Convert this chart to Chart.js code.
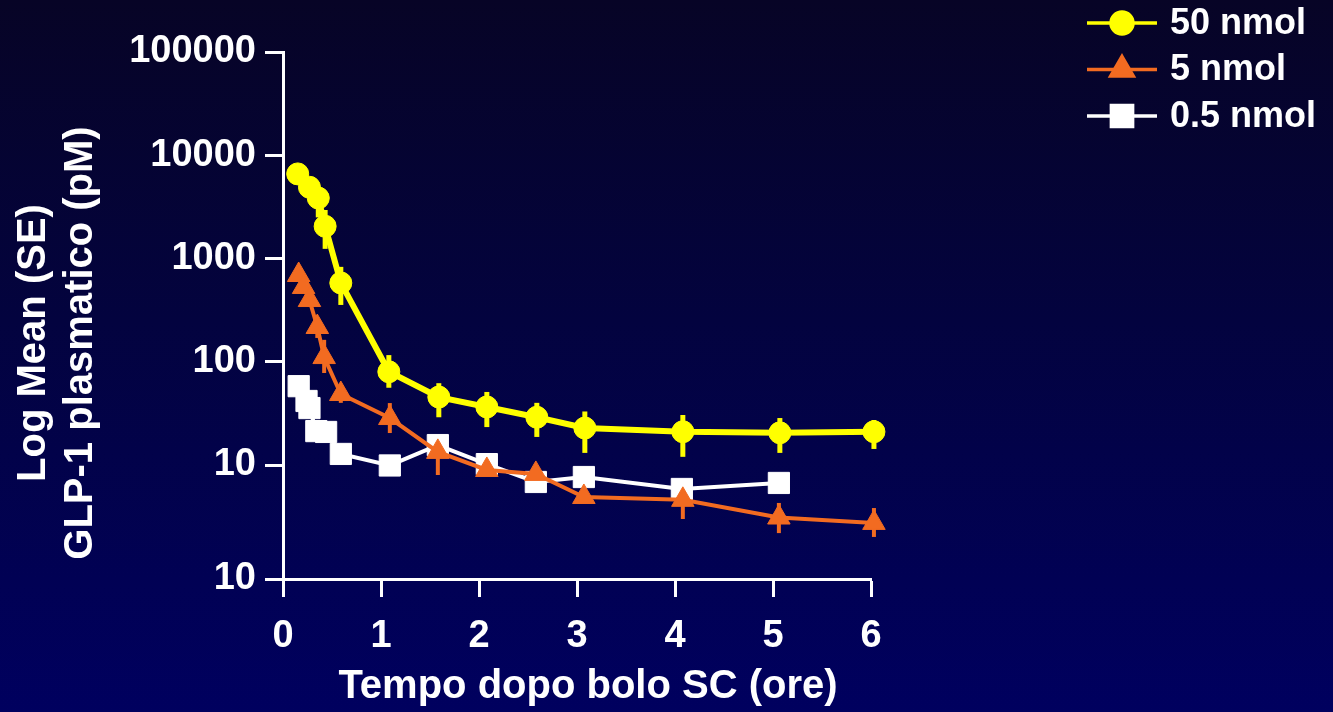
<!DOCTYPE html>
<html>
<head>
<meta charset="utf-8">
<script src="https://cdn.jsdelivr.net/npm/chart.js@4"></script>
<style>
  html, body { margin: 0; padding: 0; }
  body { width: 1333px; height: 712px; overflow: hidden;
         background: linear-gradient(to bottom, #070426 0%, #03033f 45%, #00005f 100%); }
  #wrap { position: relative; width: 1333px; height: 712px; }
</style>
</head>
<body>
<div id="wrap"><canvas id="glpChart" width="1333" height="712"></canvas></div>
<script>
  // 50 nmol
  const times50 = [0.15, 0.27, 0.36, 0.43, 0.59, 1.08, 1.59, 2.08, 2.59, 3.08, 4.08, 5.07, 6.03];
  const mean50  = [6600, 4900, 3850, 2050, 580, 80, 45.5, 36.5, 29, 22.8, 21, 20.5, 21];
  const hi50    = [7400, 5500, 4500, 2950, 830, 116, 62, 51, 40, 33, 30.5, 28.5, 27.3];
  const lo50    = [5900, 4400, 2500, 1240, 355, 56, 29, 23.3, 18.7, 13.1, 12, 13.1, 14.3];

  // 5 nmol
  const times5 = [0.16, 0.21, 0.27, 0.35, 0.42, 0.59, 1.09, 1.58, 2.08, 2.58, 3.07, 4.08, 5.06, 6.03];
  const mean5  = [692, 530, 396, 217, 111, 48.7, 28.5, 13.4, 8.95, 8.2, 4.9, 4.6, 3.1, 2.75];
  const hi5    = [845, 605, 470, 254, 163, 58, 39.8, 16.7, 10, 8.96, 5.36, 5.98, 4.29, 3.83];
  const lo5    = [600, 464, 340, 170, 77.8, 40, 20.4, 8.0, 8.0, 7.5, 4.48, 3.0, 2.19, 2.01];

  // 0.5 nmol
  const times05 = [0.16, 0.24, 0.27, 0.34, 0.44, 0.59, 1.09, 1.58, 2.08, 2.58, 3.07, 4.07, 5.06];
  const mean05  = [58, 41.7, 35.6, 21.3, 20.9, 12.8, 9.9, 15.6, 10.2, 6.85, 7.65, 5.86, 6.7];

  const seriesLabels = ['50 nmol', '5 nmol', '0.5 nmol'];
  const yTickValues = [0.787, 10, 100, 1000, 10000, 100000];
  const yTickLabels = ['10', '10', '100', '1000', '10000', '100000'];
  const xTickValues = [0, 1, 2, 3, 4, 5, 6];
  const yTitleLines = ['Log Mean (SE)', 'GLP-1 plasmatico (pM)'];
  const xTitle = 'Tempo dopo bolo SC (ore)';

  const FONT = "'Liberation Sans', Arial, sans-serif";
  const YELLOW = '#ffff00';
  const ORANGE = '#f26b21';
  const WHITE = '#ffffff';

  const toPoints = (xs, ys) => xs.map((x, i) => ({ x: x, y: ys[i] }));

  // vertical SE bars, drawn under the markers
  const errorBars = {
    id: 'errorBars',
    beforeDatasetsDraw(chart) {
      const ctx = chart.ctx;
      const xs = chart.scales.x, ys = chart.scales.y;
      chart.data.datasets.forEach(ds => {
        if (!ds.errHi) return;
        ctx.save();
        ctx.strokeStyle = ds.borderColor;
        ctx.lineWidth = ds.errWidth;
        ds.data.forEach((p, i) => {
          const px = xs.getPixelForValue(p.x);
          ctx.beginPath();
          ctx.moveTo(px, ys.getPixelForValue(ds.errHi[i]));
          ctx.lineTo(px, ys.getPixelForValue(ds.errLo[i]));
          ctx.stroke();
        });
        ctx.restore();
      });
    }
  };

  // axis titles and the line+marker legend at top right
  const extras = {
    id: 'extras',
    afterDraw(chart) {
      const ctx = chart.ctx;
      ctx.save();
      ctx.fillStyle = WHITE;
      ctx.font = 'bold 40px ' + FONT;
      ctx.textAlign = 'center';
      ctx.textBaseline = 'middle';
      yTitleLines.forEach((line, i) => {
        ctx.save();
        ctx.translate(34 + i * 47, 343);
        ctx.rotate(-Math.PI / 2);
        ctx.fillText(line, 0, 0);
        ctx.restore();
      });
      ctx.fillText(xTitle, 588, 687);

      chart.data.datasets.forEach((ds, i) => {
        const y = 23 + i * 46.5;
        ctx.strokeStyle = ds.borderColor;
        ctx.lineWidth = 3.5;
        ctx.beginPath();
        ctx.moveTo(1087, y);
        ctx.lineTo(1157, y);
        ctx.stroke();
        ctx.fillStyle = ds.pointBackgroundColor;
        ctx.strokeStyle = ds.pointBackgroundColor;
        Chart.helpers.drawPoint(ctx, {
          pointStyle: ds.pointStyle, radius: ds.pointRadius, rotation: 0, borderWidth: 1
        }, 1122, y);
        ctx.fillStyle = WHITE;
        ctx.font = 'bold 36px ' + FONT;
        ctx.textAlign = 'left';
        ctx.textBaseline = 'middle';
        ctx.fillText(ds.label, 1170, y + 1);
      });
      ctx.restore();
    }
  };

  const ctx = document.getElementById('glpChart').getContext('2d');
  new Chart(ctx, {
    type: 'line',
    data: {
      datasets: [
        {
          label: seriesLabels[0],
          data: toPoints(times50, mean50),
          errHi: hi50, errLo: lo50, errWidth: 5,
          borderColor: YELLOW, borderWidth: 6,
          pointStyle: 'circle', pointRadius: 11,
          pointBackgroundColor: YELLOW, pointBorderColor: YELLOW, pointBorderWidth: 1,
          clip: false
        },
        {
          label: seriesLabels[1],
          data: toPoints(times5, mean5),
          errHi: hi5, errLo: lo5, errWidth: 4,
          borderColor: ORANGE, borderWidth: 4,
          pointStyle: 'triangle', pointRadius: 13,
          pointBackgroundColor: ORANGE, pointBorderColor: ORANGE, pointBorderWidth: 1,
          clip: false
        },
        {
          label: seriesLabels[2],
          data: toPoints(times05, mean05),
          borderColor: WHITE, borderWidth: 4,
          pointStyle: 'rect', pointRadius: 15,
          pointBackgroundColor: WHITE, pointBorderColor: WHITE, pointBorderWidth: 1,
          clip: false
        }
      ]
    },
    options: {
      responsive: false,
      animation: false,
      layout: { padding: { top: 52, right: 462, bottom: 0, left: 0 } },
      plugins: {
        legend: { display: false },
        tooltip: { enabled: false }
      },
      scales: {
        x: {
          type: 'linear',
          min: 0,
          max: 6,
          afterFit: s => { s.height = 133; },
          afterBuildTicks: s => { s.ticks = xTickValues.map(v => ({ value: v })); },
          border: { display: true, color: WHITE, width: 3 },
          grid: { drawOnChartArea: false, drawTicks: true, tickLength: 18, tickColor: WHITE, tickWidth: 3 },
          ticks: { color: WHITE, padding: 17, font: { family: FONT, size: 38, weight: 'bold' } }
        },
        y: {
          type: 'logarithmic',
          min: yTickValues[0],
          max: 100000,
          afterFit: s => { s.width = 283; },
          afterBuildTicks: s => { s.ticks = yTickValues.map(v => ({ value: v })); },
          border: { display: true, color: WHITE, width: 3 },
          grid: { drawOnChartArea: false, drawTicks: true, tickLength: 18, tickColor: WHITE, tickWidth: 3 },
          ticks: {
            color: WHITE, padding: 9, autoSkip: false,
            font: { family: FONT, size: 38, weight: 'bold' },
            callback: (value, index) => yTickLabels[index]
          }
        }
      }
    },
    plugins: [errorBars, extras]
  });
</script>
</body>
</html>
